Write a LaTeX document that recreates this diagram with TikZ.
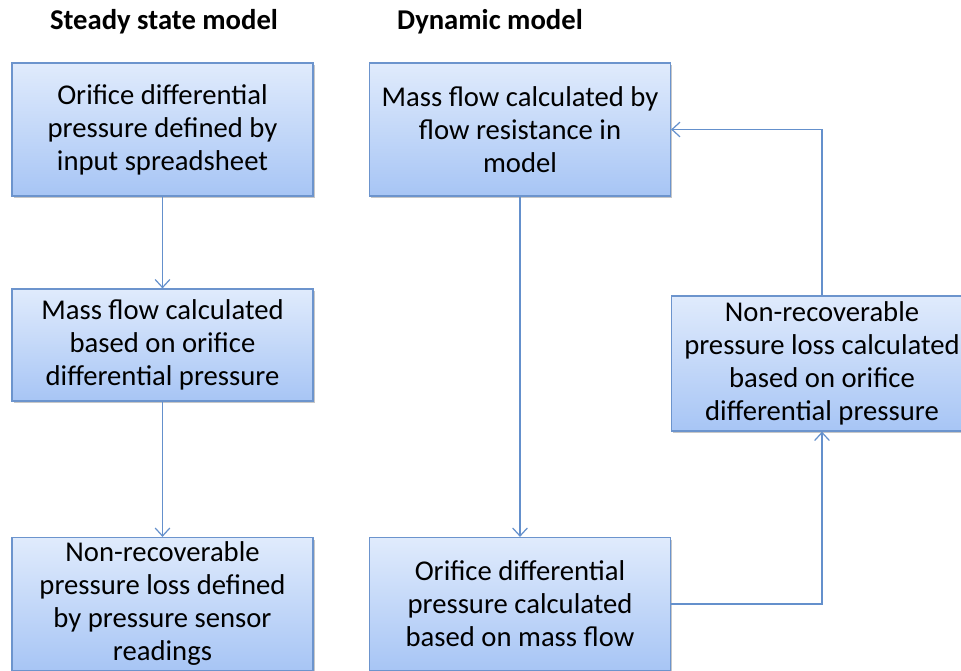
\documentclass[tikz,border=0pt]{standalone}
\usepackage{fontspec}
\setmainfont{Carlito}
\usetikzlibrary{arrows.meta,shadows}

\definecolor{boxtop}{HTML}{E0EBFC}
\definecolor{boxbot}{HTML}{A7C5F5}
\definecolor{boxline}{HTML}{6C94CD}
\definecolor{flowline}{HTML}{6490CC}

\tikzset{
  stepbox/.style={draw=boxline, line width=0.9pt, top color=boxtop, bottom color=boxbot,
    align=center, inner sep=0pt, minimum width=225.75pt, minimum height=99.75pt,
    font=\fontsize{21.5}{24.75}\selectfont,
    drop shadow={shadow xshift=1.2pt, shadow yshift=-1.5pt, opacity=0.22, fill=black}},
  flow/.style={draw=flowline, line width=0.9pt, -{Straight Barb[length=6pt, width=11pt, line width=0.9pt]}},
  heading/.style={font=\fontsize{21.5}{24}\selectfont\bfseries}
}

\begin{document}
\begin{tikzpicture}[x=0.75pt, y=-0.75pt]
  \clip (0,0) rectangle (961,671);
  \fill[white] (0,0) rectangle (961,671);
  % column headings
  \node[heading] (hsteady) at (164,22) {Steady state model};
  \node[heading] (hdyn) at (490,22) {Dynamic model};
  % steady state column
  \node[stepbox] (s1) at (162.5,129.5) {Orifice differential\\pressure defined by\\input spreadsheet};
  \node[stepbox, minimum height=84pt] (s2) at (162.5,345) {Mass flow calculated\\based on orifice\\differential pressure};
  \node[stepbox] (s3) at (162.5,604) {Non-recoverable\\pressure loss defined\\by pressure sensor\\readings};
  % dynamic column
  \node[stepbox] (d1) at (520,129.5) {Mass flow calculated by\\flow resistance in\\model};
  \node[stepbox, minimum height=101.25pt] (d2) at (822,363.5) {Non-recoverable\\pressure loss calculated\\based on orifice\\differential pressure};
  \node[stepbox] (d3) at (520,604) {Orifice differential\\pressure calculated\\based on mass flow};
  % connectors
  \draw[flow] (s1) -- (s2);
  \draw[flow] (s2) -- (s3);
  \draw[flow] (d1) -- (d3);
  \draw[flow] (d3.east) -| (d2.south);
  \draw[flow] (d2.north) |- (d1.east);
\end{tikzpicture}
\end{document}
